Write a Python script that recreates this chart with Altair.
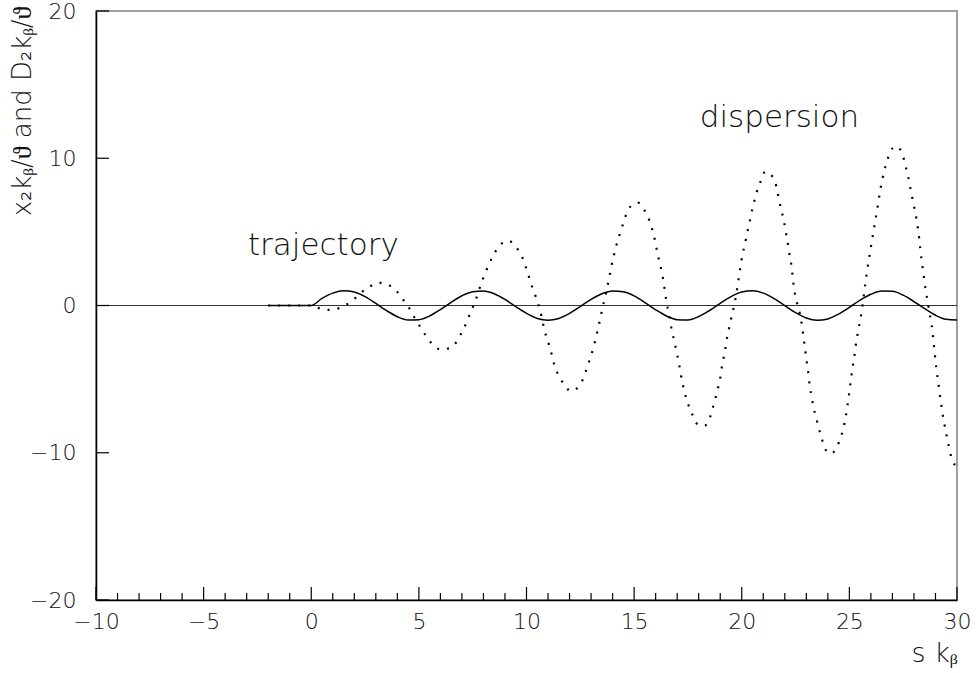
import altair as alt
import pandas as pd

# ---- data ----
traj_s = [-2.0, 0.0, 0.5, 1.0, 1.5, 2.0, 2.5, 3.0, 3.5, 4.0, 4.5, 5.0, 5.5, 6.0, 6.5, 7.0, 7.5,
          8.0, 8.5, 9.0, 9.5, 10.0, 10.5, 11.0, 11.5, 12.0, 12.5, 13.0, 13.5, 14.0, 14.5, 15.0,
          15.5, 16.0, 16.5, 17.0, 17.5, 18.0, 18.5, 19.0, 19.5, 20.0, 20.5, 21.0, 21.5, 22.0,
          22.5, 23.0, 23.5, 24.0, 24.5, 25.0, 25.5, 26.0, 26.5, 27.0, 27.5, 28.0, 28.5, 29.0,
          29.5, 30.0]
traj_v = [0.0, 0.0, 0.48, 0.84, 1.0, 0.91, 0.6, 0.14, -0.35, -0.76, -0.98, -0.96, -0.71, -0.28,
          0.22, 0.66, 0.94, 0.99, 0.8, 0.41, -0.08, -0.54, -0.88, -1.0, -0.88, -0.54, -0.07,
          0.42, 0.8, 0.99, 0.93, 0.65, 0.2, -0.29, -0.71, -0.96, -0.98, -0.75, -0.34, 0.15,
          0.6, 0.91, 1.0, 0.84, 0.47, -0.01, -0.49, -0.85, -1.0, -0.91, -0.58, -0.13, 0.36,
          0.76, 0.98, 0.96, 0.7, 0.27, -0.22, -0.66, -0.94, -0.99]

disp_s = [-2.0, 0.0, 0.2, 0.6, 0.85, 1.1, 1.57, 1.95, 2.31, 2.7, 3.16, 3.61, 3.98, 4.28, 4.56,
          4.8, 5.05, 5.3, 5.61, 6.0, 6.45, 6.77, 7.0, 7.22, 7.39, 7.59, 7.75, 7.9, 8.07, 8.26,
          8.48, 8.75, 9.16, 9.51, 9.78, 9.95, 10.1, 10.24, 10.41, 10.57, 10.69, 10.79, 10.9,
          11.05, 11.18, 11.3, 11.48, 11.73, 12.05, 12.44, 12.66, 12.81, 12.97, 13.11, 13.23,
          13.34, 13.44, 13.54, 13.65, 13.75, 13.85, 13.94, 14.05, 14.17, 14.3, 14.45, 14.6,
          14.81, 15.19, 15.49, 15.7, 15.85, 15.97, 16.06, 16.16, 16.27, 16.36, 16.43, 16.5,
          16.6, 16.68, 16.77, 16.88, 16.98, 17.08, 17.16, 17.25, 17.36, 17.5, 17.68, 17.86,
          18.25, 18.52, 18.65, 18.78, 18.9, 19.0, 19.07, 19.16, 19.25, 19.33, 19.43, 19.53,
          19.64, 19.73, 19.81, 19.88, 19.96, 20.04, 20.15, 20.24, 20.35, 20.44, 20.55, 20.69,
          20.85, 20.97, 21.15, 21.54, 21.65, 21.74, 21.85, 21.96, 22.04, 22.13, 22.2, 22.29,
          22.35, 22.4, 22.47, 22.58, 22.7, 22.79, 22.86, 22.92, 22.98, 23.04, 23.11, 23.16,
          23.25, 23.33, 23.45, 23.57, 23.71, 23.84, 24.13, 24.41, 24.59, 24.73, 24.83, 24.9,
          24.97, 25.03, 25.09, 25.16, 25.23, 25.29, 25.37, 25.46, 25.55, 25.62, 25.68, 25.74,
          25.81, 25.88, 25.96, 26.04, 26.12, 26.2, 26.28, 26.36, 26.43, 26.52, 26.62, 26.76,
          26.9, 27.2, 27.5, 27.62, 27.73, 27.82, 27.92, 28.02, 28.11, 28.18, 28.24, 28.29,
          28.35, 28.41, 28.48, 28.55, 28.63, 28.71, 28.79, 28.86, 28.91, 28.96, 29.01, 29.07,
          29.13, 29.19, 29.26, 29.33, 29.41, 29.5, 29.6, 29.7, 29.88, 30.0]
disp_v = [0.0, 0.0, -0.1, -0.28, -0.3, -0.26, 0.0, 0.38, 0.86, 1.27, 1.54, 1.38, 0.95, 0.38,
          -0.2, -0.84, -1.42, -2.0, -2.6, -2.98, -2.89, -2.42, -1.8, -1.13, -0.5, 0.18, 0.84,
          1.51, 2.14, 2.82, 3.46, 4.07, 4.39, 3.97, 3.36, 2.69, 2.01, 1.36, 0.68, 0.0, -0.68,
          -1.38, -2.03, -2.69, -3.37, -4.07, -4.72, -5.31, -5.81, -5.49, -4.86, -4.22, -3.53,
          -2.87, -2.15, -1.47, -0.79, -0.11, 0.56, 1.24, 1.94, 2.64, 3.34, 4.05, 4.7, 5.38,
          6.05, 6.69, 6.98, 6.44, 5.81, 5.13, 4.41, 3.73, 3.05, 2.37, 1.69, 0.97, 0.27, -0.47,
          -1.13, -1.83, -2.51, -3.21, -3.89, -4.59, -5.29, -5.97, -6.67, -7.3, -7.96, -8.18,
          -7.62, -6.98, -6.28, -5.58, -4.93, -4.23, -3.53, -2.83, -2.1, -1.42, -0.75, -0.05,
          0.65, 1.36, 2.06, 2.8, 3.5, 4.18, 4.86, 5.54, 6.22, 6.89, 7.69, 8.3, 8.93, 9.08,
          8.43, 7.8, 7.12, 6.4, 5.72, 5.04, 4.34, 3.61, 2.89, 2.19, 1.51, 0.79, 0.11, -0.56,
          -1.29, -2.03, -2.71, -3.39, -4.07, -4.81, -5.49, -6.21, -6.89, -7.57, -8.29, -8.97,
          -9.65, -10.06, -9.65, -8.97, -8.29, -7.57, -6.89, -6.21, -5.49, -4.81, -4.13, -3.46,
          -2.76, -2.03, -1.31, -0.61, 0.11, 0.79, 1.47, 2.19, 2.89, 3.59, 4.34, 5.02, 5.72,
          6.4, 7.12, 7.8, 8.47, 9.15, 9.83, 10.5, 10.8, 10.1, 9.42, 8.75, 8.07, 7.34, 6.62,
          5.94, 5.27, 4.59, 3.89, 3.16, 2.48, 1.76, 1.02, 0.34, -0.38, -1.06, -1.74, -2.44,
          -3.16, -3.89, -4.56, -5.24, -5.94, -6.67, -7.34, -8.02, -8.7, -9.42, -10.1, -10.78,
          -10.88]

x_major_ticks = [-10, -5, 0, 5, 10, 15, 20, 25, 30]
x_minor_ticks = [v for v in range(-10, 31) if v % 5 != 0]
y_major_ticks = [-20, -10, 0, 10, 20]

labels = ["trajectory", "dispersion"]
label_s = [-2.94, 18.05]
label_v = [3.4, 12.1]

W, H = 861, 589
FONT = "DejaVu Sans"
TXT = "#111"

xs = alt.Scale(domain=[-10, 30], nice=False, zero=False)
ys = alt.Scale(domain=[-20, 20], nice=False, zero=False)

traj = pd.DataFrame({"s": traj_s, "v": traj_v})
disp = pd.DataFrame({"s": disp_s, "v": disp_v})

x_axis = alt.Axis(values=x_major_ticks, ticks=False, grid=False, domainColor="black",
                  domainWidth=1.5, labelFont=FONT, labelFontSize=22, labelFontWeight=200,
                  labelColor=TXT, labelPadding=11, title="s kᵦ", titleFont=FONT,
                  titleFontSize=27, titleFontWeight=200, titleColor=TXT, titleAnchor="end",
                  titlePadding=8, labelFlush=False)
y_axis = alt.Axis(values=y_major_ticks, ticks=False, grid=False, domainColor="black",
                  domainWidth=1.5, labelFont=FONT, labelFontSize=22, labelFontWeight=200,
                  labelColor=TXT, labelPadding=20, title="x₂kᵦ/ϑ and D₂kᵦ/ϑ", titleFont=FONT,
                  titleFontSize=26, titleFontWeight=200, titleColor=TXT,
                  titleAngle=270, titleAlign="right", titleBaseline="middle",
                  titleX=-74, titleY=-5, labelFlush=False)

traj_line = alt.Chart(traj).mark_line(color="black", strokeWidth=1.5, interpolate="monotone").encode(
    x=alt.X("s:Q", scale=xs, axis=x_axis),
    y=alt.Y("v:Q", scale=ys, axis=y_axis),
)

disp_line = alt.Chart(disp).mark_line(color="black", strokeWidth=2.2, strokeDash=[2, 8],
                                     interpolate="monotone").encode(
    x=alt.X("s:Q", scale=xs),
    y=alt.Y("v:Q", scale=ys),
)

zero_rule = alt.Chart(pd.DataFrame({"v": [0]})).mark_rule(color="#333", strokeWidth=1.2).encode(
    y=alt.Y("v:Q", scale=ys)
)

xmaj = alt.Chart(pd.DataFrame({"t": x_major_ticks})).mark_rule(color="black", strokeWidth=1.2).encode(
    x=alt.X("t:Q", scale=xs), y=alt.value(H), y2=alt.value(H - 13)
)
xmin = alt.Chart(pd.DataFrame({"t": x_minor_ticks})).mark_rule(color="black", strokeWidth=1.2).encode(
    x=alt.X("t:Q", scale=xs), y=alt.value(H), y2=alt.value(H - 7)
)
ymaj = alt.Chart(pd.DataFrame({"t": y_major_ticks})).mark_rule(color="black", strokeWidth=1.2).encode(
    y=alt.Y("t:Q", scale=ys), x=alt.value(0), x2=alt.value(13)
)

texts = alt.Chart(pd.DataFrame({"s": label_s, "v": label_v, "label": labels})).mark_text(
    align="left", baseline="alphabetic", font=FONT, fontSize=31, fontWeight=200, color=TXT
).encode(
    x=alt.X("s:Q", scale=xs), y=alt.Y("v:Q", scale=ys), text="label:N"
)

chart = alt.layer(zero_rule, traj_line, disp_line, xmaj, xmin, ymaj, texts).properties(
    width=W, height=H,
    autosize=alt.AutoSizeParams(type="none"),
    padding={"left": 96, "top": 11, "right": 19, "bottom": 73},
    background="white",
).configure_view(stroke="#808080", strokeWidth=1.5)

chart.save("out.html", embed_options={"renderer": "svg", "actions": False})
